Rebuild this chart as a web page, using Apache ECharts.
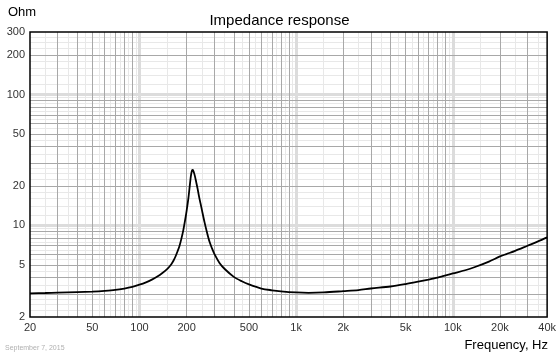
<!DOCTYPE html>
<html>
<head>
<meta charset="utf-8">
<script src="https://cdn.jsdelivr.net/npm/echarts@6/dist/echarts.min.js"></script>
<style>html,body{margin:0;padding:0;background:#fff}#c{width:559px;height:356px}</style>
</head>
<body>
<div id="c"></div>
<script>
// Frequency (Hz) and impedance (Ohm)
const freq = [20,25,30,40,50,60,70,80,90,100,110,120,130,140,150,155,160,165,170,175,180,185,190,195,200,205,210,213,216,219,222,226,230,235,240,245,250,260,270,280,290,300,325,350,400,450,500,600,700,800,1000,1200,1500,2000,2500,3000,4000,5000,6000,7000,8000,10000,12000,14000,17000,20000,22000,25000,30000,35000,40000];
const ohm  = [3.03,3.05,3.07,3.10,3.13,3.17,3.22,3.30,3.40,3.53,3.68,3.86,4.07,4.33,4.64,4.84,5.08,5.40,5.82,6.35,6.98,7.90,9.10,10.8,13.0,16.0,20.8,24.0,26.1,26.5,25.6,23.7,21.5,19.0,16.6,14.8,13.2,10.6,8.8,7.5,6.7,6.1,5.15,4.65,4.05,3.75,3.55,3.30,3.20,3.14,3.08,3.06,3.08,3.15,3.21,3.30,3.42,3.57,3.72,3.86,4.0,4.3,4.55,4.84,5.3,5.8,6.05,6.4,7.0,7.55,8.1];
const xTickLabels = [20,50,100,200,500,1000,2000,5000,10000,20000,40000];
const yTickLabels = [2,5,10,20,50,100,200,300];
// grid line values
const xDecadeLines = [100,1000,10000];
const xMajorLines = [30,40,50,60,70,80,90,200,300,400,500,600,700,800,900,2000,3000,4000,5000,6000,7000,8000,9000,20000,30000];
const xMinorLines = [25,35,45,55,65,75,85,95,150,250,350,450,550,650,750,850,950,1500,2500,3500,4500,5500,6500,7500,8500,9500,15000,25000,35000];
const yDecadeLines = [10,100];
const yMajorLines = [3,4,5,6,7,8,9,20,30,40,50,60,70,80,90,200];
const yMinorLines = [2.25,2.5,2.75,3.5,4.5,5.5,6.5,7.5,8.5,9.5,12,14,16,18,22.5,25,27.5,35,45,55,65,75,85,95,120,140,160,180,225,250,275];

const font = 'Liberation Sans, Arial, sans-serif';
function fmt(v){ return v >= 1000 ? (v/1000) + 'k' : String(v); }
const pairs = freq.map((f,i)=>[f, ohm[i]]);

function lines(vals, axis, color, width){
  return vals.map(v => ({ [axis]: v, lineStyle: { color: color, width: width, type: 'solid' } }));
}
const gridLines = [].concat(
  lines(xMinorLines,'xAxis','#e8e8e8',1),
  lines(yMinorLines,'yAxis','#e8e8e8',1),
  lines(xDecadeLines,'xAxis','#dcdcdc',3),
  lines(yDecadeLines,'yAxis','#dcdcdc',3),
  lines(xMajorLines,'xAxis','#a8a8a8',1),
  lines(yMajorLines,'yAxis','#a8a8a8',1)
);

const chart = echarts.init(document.getElementById('c'), null, {renderer:'canvas'});
chart.setOption({
  animation: false,
  backgroundColor: '#fff',
  title: { text: 'Impedance response', left: 'center', top: 8,
    textStyle: { fontFamily: font, fontSize: 15, fontWeight: 'normal', color: '#000' } },
  grid: { left: 30, right: 11, top: 32, bottom: 39, show: true, borderColor: '#000', borderWidth: 1.5, backgroundColor: 'transparent', z: 3 },
  xAxis: { type: 'log', logBase: 10, min: 20, max: 40000,
    axisLine: { show: false }, axisTick: { show: false }, splitLine: { show: false },
    axisLabel: { customValues: xTickLabels, formatter: fmt, fontFamily: font, fontSize: 11, color: '#333', margin: 5, showMinLabel: true, showMaxLabel: true, hideOverlap: false } },
  yAxis: { type: 'log', logBase: 10, min: 2, max: 300,
    axisLine: { show: false }, axisTick: { show: false }, splitLine: { show: false },
    axisLabel: { customValues: yTickLabels, formatter: fmt, fontFamily: font, fontSize: 11, color: '#333', margin: 5, showMinLabel: true, showMaxLabel: true, hideOverlap: false } },
  graphic: [
    { type: 'text', left: 8, top: 6, style: { text: 'Ohm', font: '13px ' + font, fill: '#000' } },
    { type: 'text', right: 11, top: 339, style: { text: 'Frequency, Hz', font: '13px ' + font, fill: '#000' } },
    { type: 'text', left: 5, top: 345, style: { text: 'September 7, 2015', font: '7px ' + font, fill: '#b0b0b0' } }
  ],
  series: [
    { type: 'line', data: [], silent: true, z: 1,
      markLine: { silent: true, symbol: ['none','none'], animation: false, z: 1, label: { show: false }, data: gridLines } },
    { type: 'line', data: pairs, smooth: 0.3, showSymbol: false, z: 10,
      lineStyle: { color: '#000', width: 1.8 } }
  ]
});
</script>
</body>
</html>
